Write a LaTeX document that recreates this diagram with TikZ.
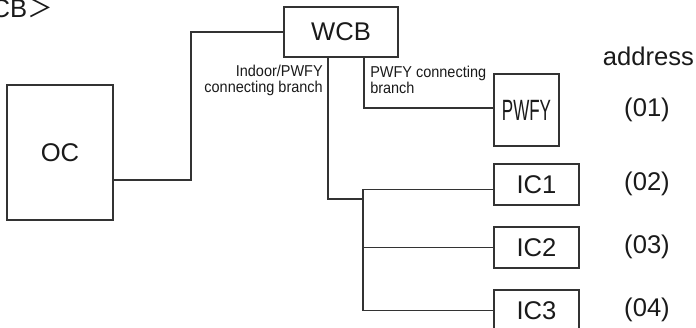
\documentclass[tikz,border=0pt]{standalone}
\usepackage{fontspec}
\usepackage{xcolor}
\setmainfont{Liberation Sans}
\newfontfamily\narrowfont[FakeStretch=0.58]{Liberation Sans}
\newfontfamily\notefont[FakeStretch=0.92]{Liberation Sans}
\newfontfamily\cjkfont{Noto Sans CJK SC}
\definecolor{linegray}{HTML}{333333}
\definecolor{textgray}{HTML}{1A1A1A}
\begin{document}
\begin{tikzpicture}[x=0.75pt,y=0.75pt,yscale=-1,xscale=1,
	unit/.style={draw=linegray,line width=0.9pt,inner sep=0pt,outer sep=0pt,text=textgray,font=\fontsize{19.2}{21}\selectfont},
	pipe/.style={draw=linegray,line width=0.9pt},
	note/.style={inner sep=0pt,text=textgray,font=\notefont\fontsize{11.8}{12}\selectfont},
	addr/.style={inner sep=0pt,text=textgray,font=\fontsize{19.2}{21}\selectfont}]
	\useasboundingbox (0,0) rectangle (696,328);
	
	% Units
	\node [unit,minimum width=79.5pt,minimum height=101.25pt] (oc) at (60,152.5) {OC};
	\node [unit,minimum width=85.5pt,minimum height=37.5pt] (wcb) at (341,32) {WCB};
	\node [unit,minimum width=48.75pt,minimum height=54pt,font=\narrowfont\fontsize{22}{24}\selectfont] (pwfy) at (526.5,110) {PWFY};
	\node [unit,minimum width=63.75pt,minimum height=30.75pt] (ic1) at (536.5,184.5) {IC1};
	\node [unit,minimum width=63.75pt,minimum height=30.75pt] (ic2) at (536.5,247.5) {IC2};
	\node [unit,minimum width=63.75pt,minimum height=30.75pt] (ic3) at (536.5,310.5) {IC3};
	
	% Piping
	\coordinate (jOC) at (191,180);
	\coordinate (tapA) at (328,199);
	\coordinate (tapB) at (364,112);
	\coordinate (bus) at (363,199);
	\draw [pipe] (oc.east |- jOC) -- (jOC) |- (wcb.west);
	\draw [pipe] (wcb.south -| tapA) -- (tapA) -- (bus);
	\draw [pipe] ([yshift=4pt]ic1.west) -| (bus |- ic3.west) -- (ic3.west);
	\draw [pipe] (bus |- ic2.west) -- (ic2.west);
	\draw [pipe] (wcb.south -| tapB) |- ([yshift=-1.5pt]pwfy.west);
	
	% Text Node
	\node [note,anchor=north east,align=right] (lblIndoor) at (323,65) {Indoor/PWFY\\connecting branch};
	\node [note,anchor=north west,align=left] (lblPwfy) at (370,66) {PWFY connecting\\branch};
	\node [addr,anchor=base east] (title) at (53,18) {CB{\cjkfont ＞}};
	\node [addr,anchor=base] (addrHead) at (648.5,65) {address};
	\foreach \n/\y in {01/109.5,02/183.5,03/246.5,04/310}
		\node [addr] (a\n) at (647,\y) {(\n)};
\end{tikzpicture}
\end{document}
